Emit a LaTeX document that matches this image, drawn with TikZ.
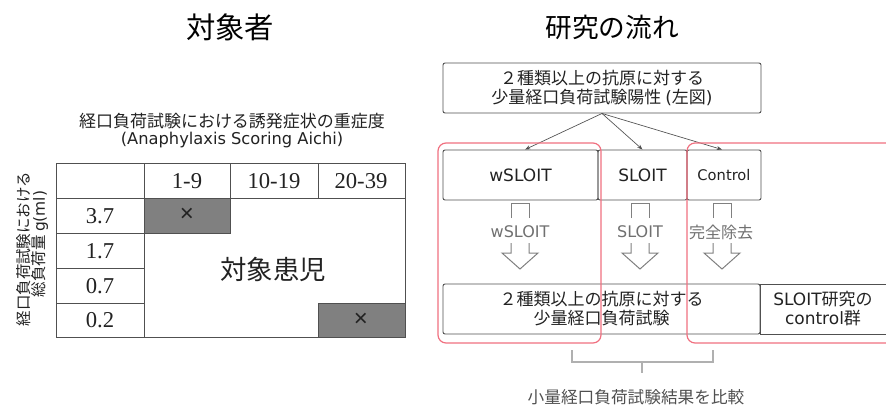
\documentclass[tikz,border=0pt]{standalone}
\usepackage{fontspec}
\setmainfont{Noto Sans CJK JP}
\newfontfamily\vd{DejaVu Sans}
\newfontfamily\tm{Liberation Serif}
\newfontfamily\ls{Liberation Sans}
\usetikzlibrary{arrows.meta}
\definecolor{linegray}{HTML}{505050}
\definecolor{cellgray}{HTML}{808080}
\definecolor{redl}{HTML}{F07080}
\definecolor{arrgray}{HTML}{808080}
\definecolor{lblgray}{HTML}{707070}
\definecolor{brgray}{HTML}{B0B0B0}
\definecolor{txt}{HTML}{222222}
\newcommand\fsz[2]{\fontsize{#1pt}{#2pt}\selectfont}
\newcommand\blockarrow[1]{%
  \draw[barrow] (#1-9,218) -- (#1-9,203) -- (#1+9,203) -- (#1+9,218);
  \draw[barrow] (#1-9,243) -- (#1-9,253) -- (#1-18,253) -- (#1,269) -- (#1+18,253) -- (#1+9,253) -- (#1+9,243);}
\tikzset{
  every node/.style={text=txt, inner sep=0pt},
  wh/.style 2 args={minimum width={#1*0.75pt}, minimum height={#2*0.75pt}},
  box/.style={draw=linegray, line width=0.7pt, rounded corners=1.5pt, align=center, font=\fsz{12.75}{14.25}},
  boxline/.style={draw=linegray, line width=0.7pt},
  conn/.style={draw=linegray, line width=0.5pt, -{Stealth[length=4pt,width=3pt]}},
  barrow/.style={draw=arrgray, line width=0.75pt},
  redbox/.style={draw=redl, line width=0.9pt, rounded corners=6pt},
  tline/.style={draw=linegray, line width=0.7pt},
  cell/.style={fill=cellgray, draw=linegray, line width=0.7pt},
  num/.style={font=\tm\fsz{17}{20}},
  xmark/.style={font=\ls\fsz{18}{19}},
  alabel/.style={text=lblgray, font=\vd\fsz{12}{14}},
}
\begin{document}
\begin{tikzpicture}[x=0.75pt, y=-0.75pt]
\useasboundingbox (0,0) rectangle (886,404);
% titles
\node[font=\fsz{22}{24}, text=black] (t1) at (230,27) {対象者};
\node[font=\fsz{20}{22}, text=black] (t2) at (612,27) {研究の流れ};
% left subtitle
\node[font=\fsz{12.75}{14}] (st1) at (232,121) {経口負荷試験における誘発症状の重症度};
\node[font=\vd\fsz{12.2}{14}] (st2) at (232,140) {(Anaphylaxis Scoring Aichi)};
% vertical label
\node[font=\fsz{11.6}{13}, rotate=90] (vl1) at (24,249) {経口負荷試験における};
\node[font=\fsz{11.6}{13}, rotate=90] (vl2) at (40,244) {総負荷量 {\vd g(ml)}};
% table
\fill[cell] (144,198) rectangle (230,233);
\fill[cell] (318,303) rectangle (405,337);
\draw[tline] (56,163) rectangle (405,337);
\draw[tline] (144,163) -- (144,337);
\draw[tline] (230,163) -- (230,198);
\draw[tline] (318,163) -- (318,198);
\draw[tline] (56,198) -- (405,198);
\draw[tline] (56,233) -- (144,233);
\draw[tline] (56,268) -- (144,268);
\draw[tline] (56,303) -- (144,303);
\draw[tline] (144,198) rectangle (230,233);
\draw[tline] (318,303) rectangle (405,337);
\node[num] (h1) at (187,181) {1-9};
\node[num] (h2) at (274,181) {10-19};
\node[num] (h3) at (361,181) {20-39};
\node[num] (r1) at (100,216) {3.7};
\node[num] (r2) at (100,251) {1.7};
\node[num] (r3) at (100,286) {0.7};
\node[num] (r4) at (100,320) {0.2};
\node[xmark] (x1) at (187,215) {×};
\node[xmark] (x2) at (361,320) {×};
\node[font=\fsz{19.8}{22}] (pt) at (273,269) {対象患児};
% right flow
\node[box, wh={318}{50}] (top) at (602,88) {２種類以上の抗原に対する\\少量経口負荷試験陽性 {\vd(}左図{\vd)}};
\node[box, wh={155}{50}, font=\vd\fsz{12.75}{15}] (wb) at (520.5,175) {wSLOIT};
\node[box, wh={89}{50}, font=\vd\fsz{12.75}{15}] (sb) at (642.5,175) {SLOIT};
\node[box, wh={74}{50}, font=\vd\fsz{11}{13}] (cb) at (724,175) {Control};
\draw[conn] (top.south) -- ([xshift=3.4pt]wb.north);
\draw[conn] (top.south) -- (sb.north);
\draw[conn] (top.south) -- ([xshift=-1.5pt]cb.north);
\blockarrow{520}
\blockarrow{640}
\blockarrow{722}
\node[alabel] (l1) at (520,232) {wSLOIT};
\node[alabel] (l2) at (640,232) {SLOIT};
\node[alabel, font=\fsz{12}{14}] (l3) at (721,232) {完全除去};
\node[box, wh={317}{50}] (bb) at (601.5,309) {２種類以上の抗原に対する\\少量経口負荷試験};
\draw[boxline] (886,284) -- (760,284) -- (760,334) -- (886,334);
\node[align=center, font=\fsz{12.75}{14.25}] (rb) at (823,309) {{\vd SLOIT}研究の\\{\vd control}群};
% red groups
\draw[redbox] (438,143) rectangle (601,343);
\draw[redbox] (886,143) -- (687,143) -- (687,343) -- (886,343);
% bracket
\draw[brgray, line width=0.9pt] (572,350) -- (572,362) -- (713,362) -- (713,350);
\draw[brgray, line width=0.9pt] (642,362) -- (642,373);
\node[font=\fsz{12.5}{14}, text=linegray] (cmp) at (636,397) {小量経口負荷試験結果を比較};
\end{tikzpicture}
\end{document}
